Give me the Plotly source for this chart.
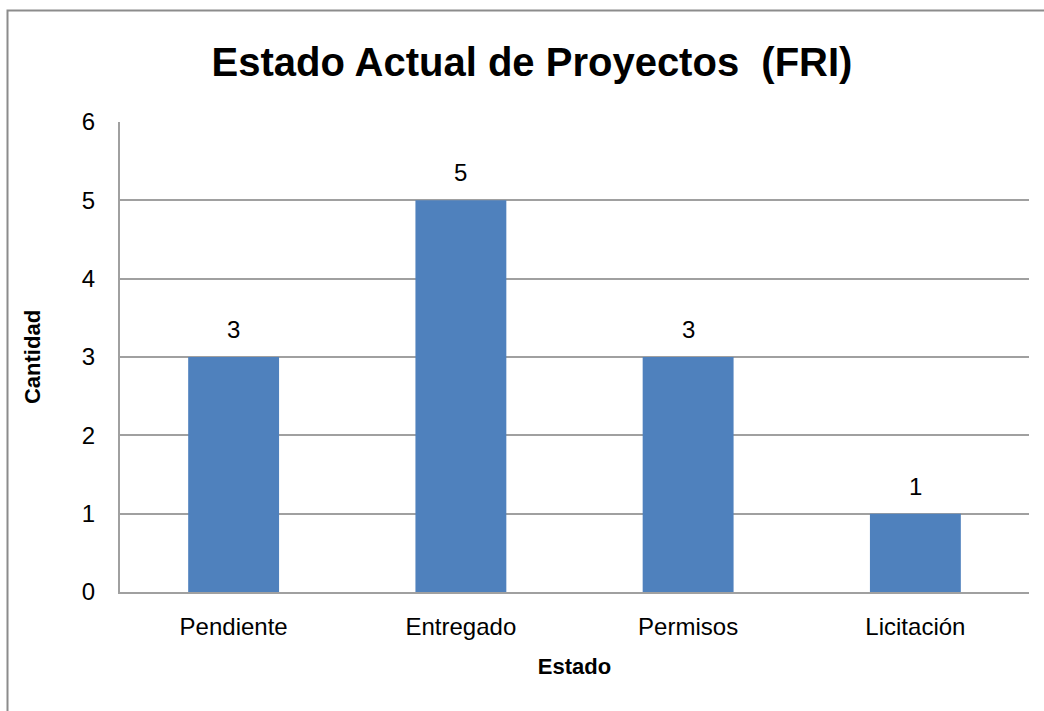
import plotly.graph_objects as go

categories = ["Pendiente", "Entregado", "Permisos", "Licitación"]
values = [3, 5, 3, 1]
y_ticks = [0, 1, 2, 3, 4, 5, 6]

FONT = "Liberation Sans"
GRID = "#a0a0a0"
fig = go.Figure()
fig.add_trace(go.Bar(
    x=categories, y=values,
    marker=dict(color="#4f81bd", line=dict(width=0)),
    hoverinfo="x+y",
))
annotations = [
    dict(x=c, y=v, xref="x", yref="y", text=str(v), showarrow=False,
         yanchor="bottom", yshift=12,
         font=dict(family=FONT, size=24, color="#000000"))
    for c, v in zip(categories, values)
]
fig.update_layout(
    width=1044, height=711,
    margin=dict(l=120, r=15, t=122, b=119),
    paper_bgcolor="white", plot_bgcolor="white",
    bargap=0.6,
    showlegend=False,
    title=dict(text="<b>Estado Actual de Proyectos  (FRI)</b>", x=532 / 1044, xanchor="center",
               y=1 - 62 / 711, yanchor="middle",
               font=dict(family=FONT, size=40, color="#000000")),
    xaxis=dict(
        title=dict(text="<b>Estado</b>", font=dict(family=FONT, size=22, color="#000000"), standoff=20),
        tickfont=dict(family=FONT, size=24, color="#000000"),
        showline=True, linecolor=GRID, linewidth=2,
        ticks="", ticklabelstandoff=12,
    ),
    yaxis=dict(
        title=dict(text="<b>Cantidad</b>", font=dict(family=FONT, size=22, color="#000000"), standoff=35),
        tickfont=dict(family=FONT, size=24, color="#000000"),
        range=[0, 6], tickvals=y_ticks,
        showgrid=True, gridcolor=GRID, gridwidth=2,
        showline=True, linecolor=GRID, linewidth=2,
        zeroline=False, ticks="", ticklabelstandoff=18,
    ),
    annotations=annotations,
    shapes=[dict(type="rect", xref="paper", yref="paper",
                 x0=(7.5 - 120) / 909, x1=1.2, y0=-0.5, y1=(592 - 10.5) / 470,
                 line=dict(color="#8c8c8c", width=2), fillcolor="rgba(0,0,0,0)", layer="below")],
)
fig.write_html("out.html", config={"displayModeBar": False},
               post_script="document.body.style.margin='0';")
